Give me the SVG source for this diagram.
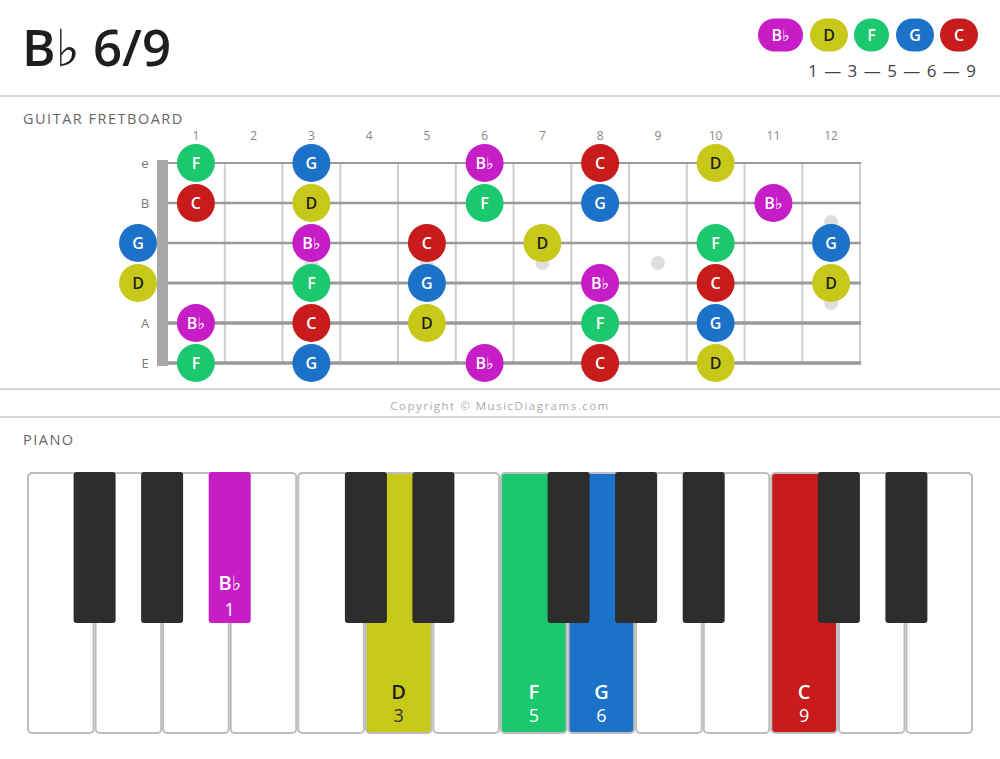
<svg xmlns="http://www.w3.org/2000/svg" width="1000" height="759" viewBox="0 0 1000 759">
<style>
text{font-family:"Open Sans","DejaVu Sans",sans-serif}
.sep{stroke:#d6d6d6;stroke-width:2}
.hdr{font-size:14.5px;fill:#666;letter-spacing:1.5px}
.fn{font-size:12px;fill:#888;text-anchor:middle}
.sl{font-size:13px;fill:#777;text-anchor:middle}
.fret{stroke:#cfcfcf;stroke-width:2}
.str{stroke:#9a9a9a}
.dot{fill:#dedede}
.n text,.lg text{font-size:16px;font-weight:600;text-anchor:middle;fill:#fff}
.n .dk,.lg .dk,.pk .dk{fill:#1e1e1e}
.bb{fill:#c61dc6}.d{fill:#c8c81a}.f{fill:#1bc86f}.g{fill:#1c72c8}.c{fill:#c81b1b}
.wk{fill:#fff;stroke:#bdbdbd;stroke-width:2}
.ck{stroke:#bdbdbd;stroke-width:2}
.bk{fill:#2d2d2d}
.pk text{text-anchor:middle;fill:#fff}
.pk .nm{font-size:20px;font-weight:600}
.pk .no{font-size:18px}
.pk .dkn{fill:#333}
</style>
<rect width="1000" height="759" fill="#fff"/>
<g id="title"><text x="22" y="66" font-size="51" font-weight="600" fill="#1e1e1e">B♭ 6/9</text></g>
<g id="legend" class="lg">
<rect x="758" y="18.5" width="45" height="33" rx="16.5" class="bb"/><text x="780.5" y="41">B♭</text>
<rect x="810" y="18.5" width="38" height="33" rx="16.5" class="d"/><text x="829" y="41" class="dk">D</text>
<rect x="854" y="18.5" width="35" height="33" rx="16.5" class="f"/><text x="871.5" y="41">F</text>
<rect x="896" y="18.5" width="38" height="33" rx="16.5" class="g"/><text x="915" y="41">G</text>
<rect x="940" y="18.5" width="38" height="33" rx="16.5" class="c"/><text x="959" y="41">C</text>
<text x="977" y="77" style="font-size:17px;font-weight:normal;fill:#444;text-anchor:end;letter-spacing:1px">1 — 3 — 5 — 6 — 9</text>
</g>
<g id="separators">
<line x1="0" y1="96" x2="1000" y2="96" class="sep"/>
<line x1="0" y1="389" x2="1000" y2="389" class="sep"/>
<line x1="0" y1="417" x2="1000" y2="417" class="sep"/>
</g>
<text x="23" y="124" class="hdr">GUITAR FRETBOARD</text>
<text x="500" y="410" text-anchor="middle" style="font-size:11.5px;fill:#aaa;letter-spacing:1.5px">Copyright © MusicDiagrams.com</text>
<text x="23" y="445" class="hdr">PIANO</text>
<g id="fretboard">
<g id="fret-numbers">
<text x="195.9" y="140" class="fn">1</text><text x="253.6" y="140" class="fn">2</text><text x="311.4" y="140" class="fn">3</text><text x="369.1" y="140" class="fn">4</text><text x="426.9" y="140" class="fn">5</text><text x="484.6" y="140" class="fn">6</text><text x="542.4" y="140" class="fn">7</text><text x="600.1" y="140" class="fn">8</text><text x="657.9" y="140" class="fn">9</text><text x="715.6" y="140" class="fn">10</text><text x="773.4" y="140" class="fn">11</text><text x="831.1" y="140" class="fn">12</text>
</g>
<g id="string-labels">
<text x="145" y="168" class="sl">e</text><text x="145" y="208" class="sl">B</text><text x="145" y="328" class="sl">A</text><text x="145" y="368" class="sl">E</text>
</g>
<g id="frets">
<line x1="224.8" y1="163" x2="224.8" y2="363" class="fret"/><line x1="282.5" y1="163" x2="282.5" y2="363" class="fret"/><line x1="340.3" y1="163" x2="340.3" y2="363" class="fret"/><line x1="398" y1="163" x2="398" y2="363" class="fret"/><line x1="455.8" y1="163" x2="455.8" y2="363" class="fret"/><line x1="513.5" y1="163" x2="513.5" y2="363" class="fret"/><line x1="571.3" y1="163" x2="571.3" y2="363" class="fret"/><line x1="629" y1="163" x2="629" y2="363" class="fret"/><line x1="686.8" y1="163" x2="686.8" y2="363" class="fret"/><line x1="744.5" y1="163" x2="744.5" y2="363" class="fret"/><line x1="802.3" y1="163" x2="802.3" y2="363" class="fret"/><line x1="860" y1="163" x2="860" y2="363" class="fret"/>
</g>
<g id="inlays">
<circle cx="311.4" cy="263" r="7" class="dot"/><circle cx="426.9" cy="263" r="7" class="dot"/><circle cx="542.4" cy="263" r="7" class="dot"/><circle cx="657.9" cy="263" r="7" class="dot"/><circle cx="831.1" cy="222" r="7" class="dot"/><circle cx="831.1" cy="303" r="7" class="dot"/>
</g>
<g id="strings">
<line x1="157" y1="163" x2="861" y2="163" class="str" stroke-width="2"/>
<line x1="157" y1="203" x2="861" y2="203" class="str" stroke-width="2.3"/>
<line x1="157" y1="243" x2="861" y2="243" class="str" stroke-width="2.6"/>
<line x1="157" y1="283" x2="861" y2="283" class="str" stroke-width="3"/>
<line x1="157" y1="323" x2="861" y2="323" class="str" stroke-width="3.3"/>
<line x1="157" y1="363" x2="861" y2="363" class="str" stroke-width="3.7"/>
</g>
<rect id="nut" x="157" y="160" width="11" height="206" fill="#a8a8a8"/>
<g id="notes" class="n">
<g id="e1"><circle cx="195.9" cy="163" r="19" class="f"/><text x="195.9" y="169">F</text></g>
<g id="e3"><circle cx="311.4" cy="163" r="19" class="g"/><text x="311.4" y="169">G</text></g>
<g id="e6"><circle cx="484.6" cy="163" r="19" class="bb"/><text x="484.6" y="169">B♭</text></g>
<g id="e8"><circle cx="600.1" cy="163" r="19" class="c"/><text x="600.1" y="169">C</text></g>
<g id="e10"><circle cx="715.6" cy="163" r="19" class="d"/><text x="715.6" y="169" class="dk">D</text></g>
<g id="B1"><circle cx="195.9" cy="203" r="19" class="c"/><text x="195.9" y="209">C</text></g>
<g id="B3"><circle cx="311.4" cy="203" r="19" class="d"/><text x="311.4" y="209" class="dk">D</text></g>
<g id="B6"><circle cx="484.6" cy="203" r="19" class="f"/><text x="484.6" y="209">F</text></g>
<g id="B8"><circle cx="600.1" cy="203" r="19" class="g"/><text x="600.1" y="209">G</text></g>
<g id="B11"><circle cx="773.4" cy="203" r="19" class="bb"/><text x="773.4" y="209">B♭</text></g>
<g id="G0"><circle cx="138" cy="243" r="19" class="g"/><text x="138" y="249">G</text></g>
<g id="G3"><circle cx="311.4" cy="243" r="19" class="bb"/><text x="311.4" y="249">B♭</text></g>
<g id="G5"><circle cx="426.9" cy="243" r="19" class="c"/><text x="426.9" y="249">C</text></g>
<g id="G7"><circle cx="542.4" cy="243" r="19" class="d"/><text x="542.4" y="249" class="dk">D</text></g>
<g id="G10"><circle cx="715.6" cy="243" r="19" class="f"/><text x="715.6" y="249">F</text></g>
<g id="G12"><circle cx="831.1" cy="243" r="19" class="g"/><text x="831.1" y="249">G</text></g>
<g id="D0"><circle cx="138" cy="283" r="19" class="d"/><text x="138" y="289" class="dk">D</text></g>
<g id="D3"><circle cx="311.4" cy="283" r="19" class="f"/><text x="311.4" y="289">F</text></g>
<g id="D5"><circle cx="426.9" cy="283" r="19" class="g"/><text x="426.9" y="289">G</text></g>
<g id="D8"><circle cx="600.1" cy="283" r="19" class="bb"/><text x="600.1" y="289">B♭</text></g>
<g id="D10"><circle cx="715.6" cy="283" r="19" class="c"/><text x="715.6" y="289">C</text></g>
<g id="D12"><circle cx="831.1" cy="283" r="19" class="d"/><text x="831.1" y="289" class="dk">D</text></g>
<g id="A1"><circle cx="195.9" cy="323" r="19" class="bb"/><text x="195.9" y="329">B♭</text></g>
<g id="A3"><circle cx="311.4" cy="323" r="19" class="c"/><text x="311.4" y="329">C</text></g>
<g id="A5"><circle cx="426.9" cy="323" r="19" class="d"/><text x="426.9" y="329" class="dk">D</text></g>
<g id="A8"><circle cx="600.1" cy="323" r="19" class="f"/><text x="600.1" y="329">F</text></g>
<g id="A10"><circle cx="715.6" cy="323" r="19" class="g"/><text x="715.6" y="329">G</text></g>
<g id="E1"><circle cx="195.9" cy="363" r="19" class="f"/><text x="195.9" y="369">F</text></g>
<g id="E3"><circle cx="311.4" cy="363" r="19" class="g"/><text x="311.4" y="369">G</text></g>
<g id="E6"><circle cx="484.6" cy="363" r="19" class="bb"/><text x="484.6" y="369">B♭</text></g>
<g id="E8"><circle cx="600.1" cy="363" r="19" class="c"/><text x="600.1" y="369">C</text></g>
<g id="E10"><circle cx="715.6" cy="363" r="19" class="d"/><text x="715.6" y="369" class="dk">D</text></g>
</g>
</g>
<g id="piano" class="pk">
<g id="white-keys">
<rect x="28" y="473" width="65.6" height="260" rx="4" class="wk"/>
<rect x="95.6" y="473" width="65.6" height="260" rx="4" class="wk"/>
<rect x="163.1" y="473" width="65.6" height="260" rx="4" class="wk"/>
<rect x="230.7" y="473" width="65.6" height="260" rx="4" class="wk"/>
<rect x="298.3" y="473" width="65.6" height="260" rx="4" class="wk"/>
<rect x="365.9" y="473" width="65.6" height="260" rx="4" class="ck d"/>
<rect x="433.4" y="473" width="65.6" height="260" rx="4" class="wk"/>
<rect x="501" y="473" width="65.6" height="260" rx="4" class="ck f"/>
<rect x="568.6" y="473" width="65.6" height="260" rx="4" class="ck g"/>
<rect x="636.1" y="473" width="65.6" height="260" rx="4" class="wk"/>
<rect x="703.7" y="473" width="65.6" height="260" rx="4" class="wk"/>
<rect x="771.3" y="473" width="65.6" height="260" rx="4" class="ck c"/>
<rect x="838.9" y="473" width="65.6" height="260" rx="4" class="wk"/>
<rect x="906.4" y="473" width="65.6" height="260" rx="4" class="wk"/>
</g>
<g id="white-labels">
<text x="398.7" y="699" class="nm dk">D</text><text x="398.7" y="722" class="no dkn">3</text>
<text x="533.8" y="699" class="nm">F</text><text x="533.8" y="722" class="no">5</text>
<text x="601.4" y="699" class="nm">G</text><text x="601.4" y="722" class="no">6</text>
<text x="804.1" y="699" class="nm">C</text><text x="804.1" y="722" class="no">9</text>
</g>
<g id="black-keys">
<rect x="73.6" y="472" width="42" height="151" rx="3" class="bk"/>
<rect x="141.1" y="472" width="42" height="151" rx="3" class="bk"/>
<rect x="208.7" y="472" width="42" height="151" rx="3" class="bb"/>
<rect x="344.9" y="472" width="42" height="151" rx="3" class="bk"/>
<rect x="412.4" y="472" width="42" height="151" rx="3" class="bk"/>
<rect x="547.6" y="472" width="42" height="151" rx="3" class="bk"/>
<rect x="615.1" y="472" width="42" height="151" rx="3" class="bk"/>
<rect x="682.7" y="472" width="42" height="151" rx="3" class="bk"/>
<rect x="817.9" y="472" width="42" height="151" rx="3" class="bk"/>
<rect x="885.4" y="472" width="42" height="151" rx="3" class="bk"/>
</g>
<text x="229.7" y="590" class="nm">B♭</text><text x="229.7" y="616" class="no">1</text>
</g>
</svg>
